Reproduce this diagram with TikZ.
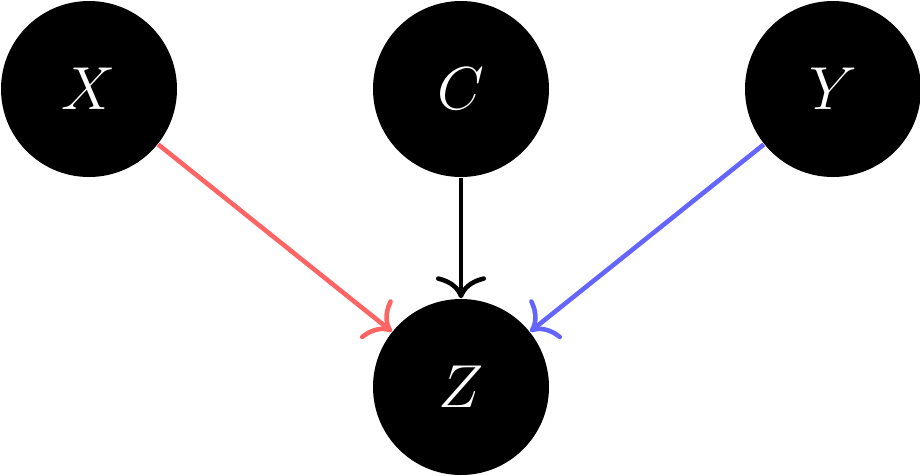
\documentclass[tikz,border=0pt]{standalone}
\usetikzlibrary{arrows.meta}
\definecolor{redarc}{RGB}{255,100,100}
\definecolor{bluearc}{RGB}{100,100,255}
\tikzset{>={To[length=2.2mm,width=5mm]}}

\begin{document}
\begin{tikzpicture}
\useasboundingbox (0,0) rectangle (9.2,4.75);
\begin{scope}[every node/.style={circle,fill=black,text=white,minimum size=1.76cm,inner sep=0pt,font=\LARGE}]
\node (X) at (0.89,3.86) {$X$};
\node (C) at (4.61,3.86) {$C$};
\node (Y) at (8.33,3.86) {$Y$};
\node (Z) at (4.61,0.88) {$Z$};
\end{scope}
\begin{scope}[every edge/.style={draw,line width=1.3pt}]
    \path [->,redarc] (X) edge (Z);
    \path [->] (C) edge (Z);
    \path [->,bluearc] (Y) edge (Z);
\end{scope}
\end{tikzpicture}
\end{document}
